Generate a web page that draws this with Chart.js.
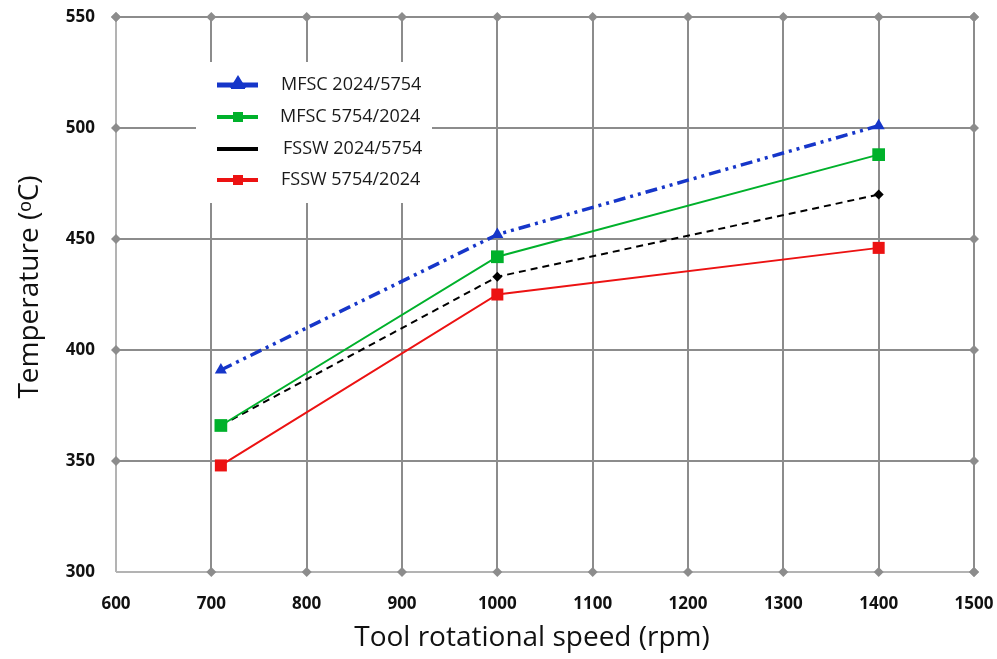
<!DOCTYPE html>
<html>
<head>
<meta charset="utf-8">
<script src="https://cdn.jsdelivr.net/npm/chart.js@4.4.0/dist/chart.umd.min.js"></script>
<style>
  html, body { margin: 0; padding: 0; background: #fff; }
  #wrap { width: 997px; height: 659px; position: relative; }
</style>
</head>
<body>
<div id="wrap"><canvas id="tempChart"></canvas></div>
<script>
// values
const speeds = [710, 1000, 1400];
const mfsc2024 = [391, 452, 501];
const mfsc5754 = [366, 442, 488];
const fssw2024 = [366, 433, 470];
const fssw5754 = [348, 425, 446];
const seriesNames = ["MFSC 2024/5754", "MFSC 5754/2024", "FSSW 2024/5754", "FSSW 5754/2024"];

const xTitle = "Tool rotational speed (rpm)";
const yTitle = "Temperature (\u1D52C)";

const BLUE = "#1636c9";
const GREEN = "#00b12b";
const RED = "#ec1212";
const GRID = "#8c8c8c";
const GRID_LIGHT = "#b3b3b3";
const FONT = "'Open Sans', 'Liberation Sans', sans-serif";

function pts(ys){
    return speeds.map((s, i) => ({x: s, y: ys[i]}));
}

function diamond(ctx, x, y, r, color){
    ctx.beginPath();
    ctx.moveTo(x, y - r);
    ctx.lineTo(x + r, y);
    ctx.lineTo(x, y + r);
    ctx.lineTo(x - r, y);
    ctx.closePath();
    ctx.fillStyle = color;
    ctx.fill();
}

// grid diamonds, legend box and axis titles
const extras = {
    id: "extras",
    beforeDatasetsDraw(chart){
        const ctx = chart.ctx;
        const xs = chart.scales.x, ys = chart.scales.y;
        ctx.save();
        // diamonds on the frame
        for (let v = 600; v <= 1500; v += 100){
            diamond(ctx, xs.getPixelForValue(v), ys.getPixelForValue(550), 5, GRID);
            if (v > 600) diamond(ctx, xs.getPixelForValue(v), ys.getPixelForValue(300), 5, GRID);
        }
        for (let v = 300; v <= 550; v += 50){
            diamond(ctx, xs.getPixelForValue(1500), ys.getPixelForValue(v), 5, GRID);
            if (v > 300) diamond(ctx, xs.getPixelForValue(600), ys.getPixelForValue(v), 5, GRID);
        }

        // legend
        ctx.fillStyle = "#fff";
        ctx.fillRect(196, 62, 236, 141);
        const rows = [85, 117, 149, 180];
        const textX = [281, 280, 283, 281];
        chart.data.datasets.forEach((ds, i) => {
            const y = rows[i];
            ctx.strokeStyle = ds.borderColor;
            ctx.lineWidth = i === 0 ? 5 : 4;
            ctx.beginPath();
            ctx.moveTo(217, y);
            ctx.lineTo(258, y);
            ctx.stroke();
            ctx.fillStyle = ds.borderColor;
            if (i === 0){
                ctx.beginPath();
                ctx.moveTo(238, y - 10);
                ctx.lineTo(246, y + 3);
                ctx.lineTo(230, y + 3);
                ctx.closePath();
                ctx.fill();
                ctx.fillRect(231, y - 1, 14, 5);
            } else if (i !== 2){
                ctx.fillRect(233, y - 5, 10, 10);
            }
            ctx.fillStyle = "#1a1a1a";
            ctx.font = "18px " + FONT;
            ctx.textAlign = "left";
            ctx.textBaseline = "middle";
            ctx.fillText(ds.label, textX[i], y);
        });

        // axis titles
        ctx.fillStyle = "#111";
        ctx.font = "28px " + FONT;
        ctx.textAlign = "center";
        ctx.textBaseline = "middle";
        ctx.fillText(xTitle, 532, 638);
        ctx.translate(30, 287);
        ctx.rotate(-Math.PI / 2);
        ctx.fillText(yTitle, 0, 0);
        ctx.restore();
    }
};

new Chart(document.getElementById("tempChart"), {
    type: "line",
    data: {
        datasets: [
            {
                label: seriesNames[0],
                data: pts(mfsc2024),
                borderColor: BLUE,
                backgroundColor: BLUE,
                borderWidth: 3.5,
                borderDash: [12, 5, 3, 5, 3, 5],
                pointStyle: "triangle",
                pointRadius: 7,
                pointBorderWidth: 0
            },
            {
                label: seriesNames[1],
                data: pts(mfsc5754),
                borderColor: GREEN,
                backgroundColor: GREEN,
                borderWidth: 2,
                pointStyle: "rect",
                pointRadius: 9,
                pointBorderWidth: 0
            },
            {
                label: seriesNames[2],
                data: pts(fssw2024),
                borderColor: "#000",
                backgroundColor: "#000",
                borderWidth: 2,
                borderDash: [7, 5],
                pointStyle: "rectRot",
                pointRadius: 5,
                pointBorderWidth: 0
            },
            {
                label: seriesNames[3],
                data: pts(fssw5754),
                borderColor: RED,
                backgroundColor: RED,
                borderWidth: 2,
                pointStyle: "rect",
                pointRadius: 8.5,
                pointBorderWidth: 0
            }
        ]
    },
    options: {
        responsive: true,
        maintainAspectRatio: false,
        animation: false,
        layout: {padding: {top: 17, right: 23, left: 0, bottom: 0}},
        plugins: {
            legend: {display: false},
            tooltip: {enabled: false}
        },
        scales: {
            x: {
                type: "linear",
                min: 600,
                max: 1500,
                ticks: {
                    stepSize: 100,
                    padding: 22,
                    color: "#111",
                    font: {family: FONT, size: 17, weight: "700"},
                    callback: v => String(v)
                },
                grid: {
                    color: c => c.tick && c.tick.value === 600 ? GRID_LIGHT : GRID,
                    lineWidth: 2,
                    drawTicks: false
                },
                border: {display: false},
                afterFit(scale){
                    scale.height = 87;
                    scale.paddingLeft = 0;
                    scale.paddingRight = 0;
                }
            },
            y: {
                min: 300,
                max: 550,
                ticks: {
                    stepSize: 50,
                    padding: 21,
                    color: "#111",
                    font: {family: FONT, size: 17, weight: "700"}
                },
                grid: {
                    color: c => c.tick && c.tick.value === 300 ? GRID_LIGHT : GRID,
                    lineWidth: 2,
                    drawTicks: false
                },
                border: {display: false},
                afterFit(scale){
                    scale.width = 116;
                    scale.paddingTop = 0;
                    scale.paddingBottom = 0;
                }
            }
        }
    },
    plugins: [extras]
});
</script>
</body>
</html>
